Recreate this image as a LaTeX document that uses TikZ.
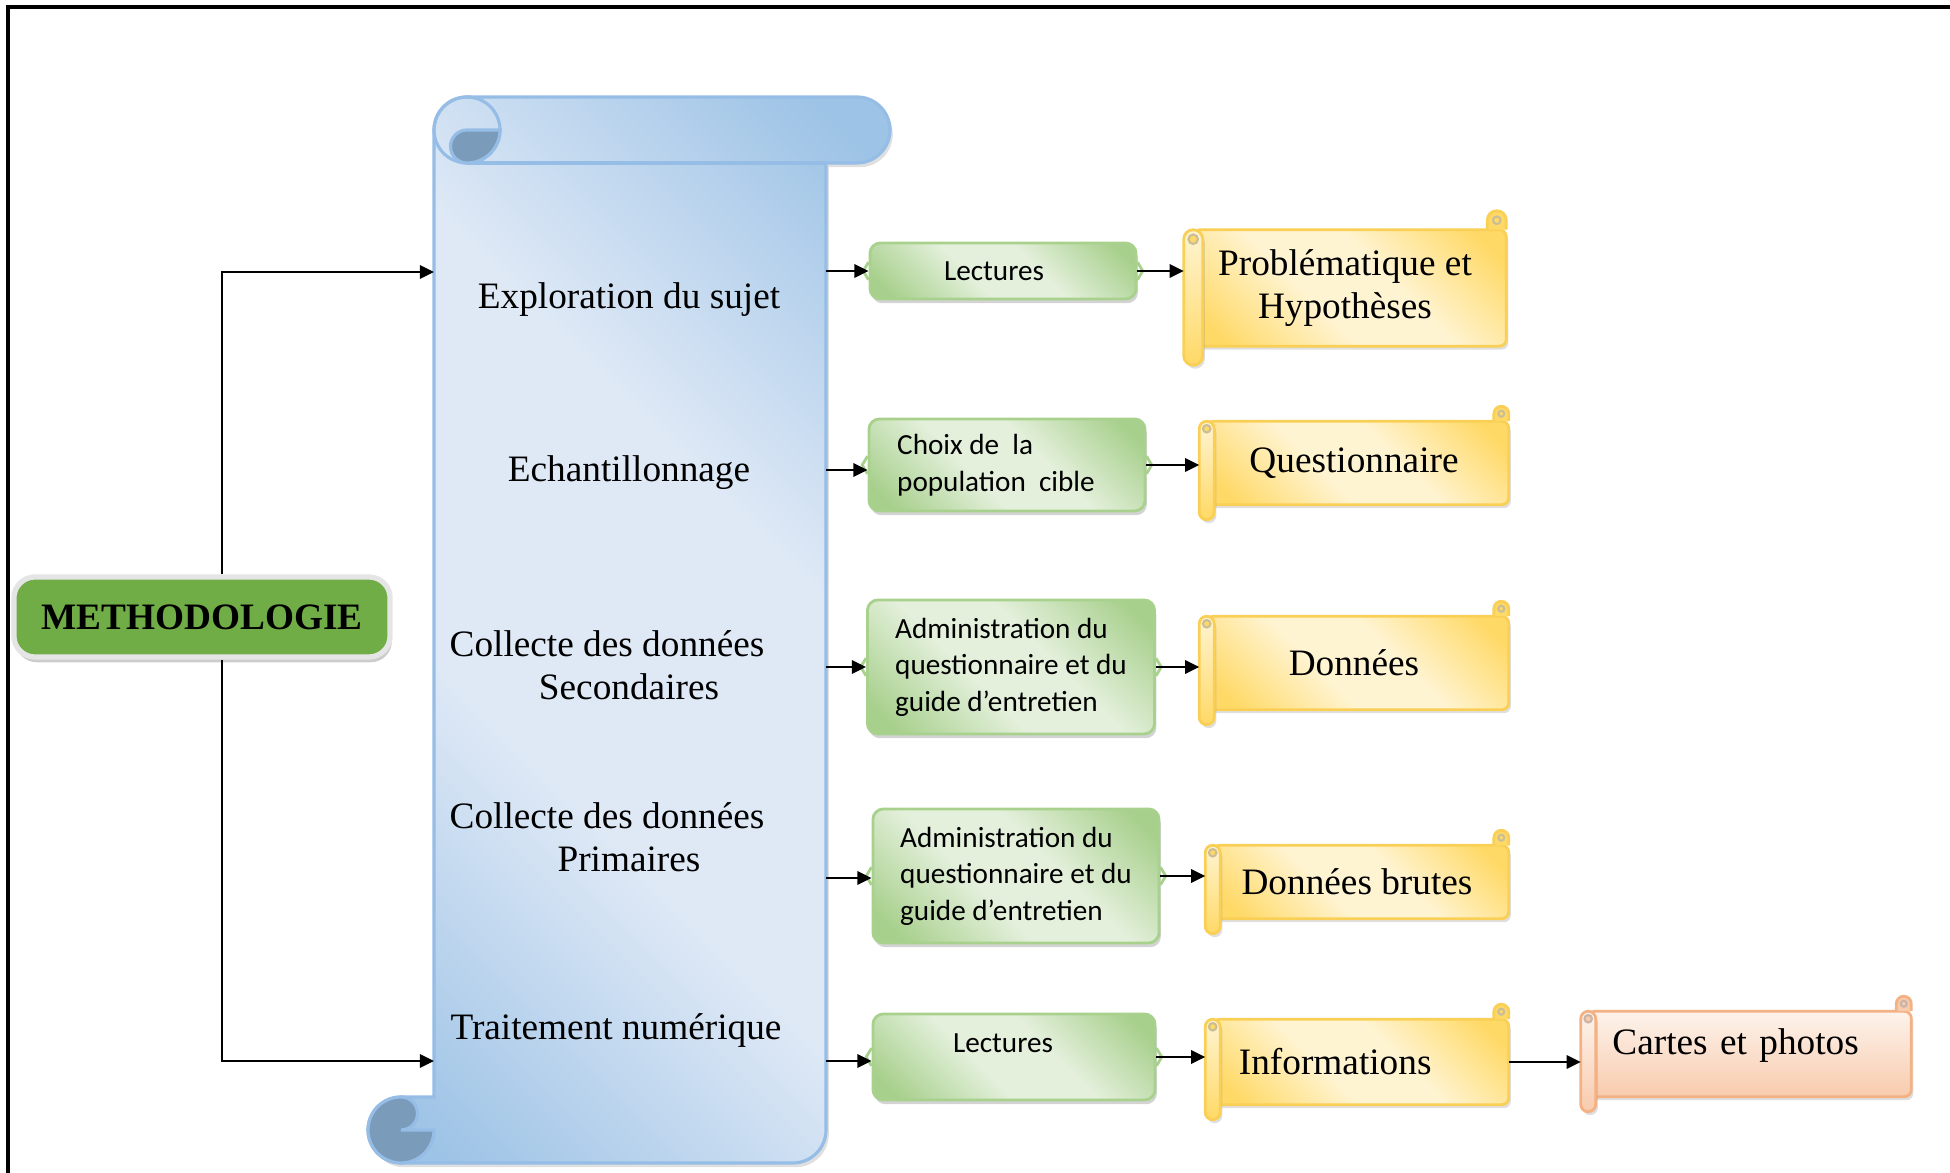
\documentclass[tikz,border=0pt]{standalone}
\usepackage{fontspec}
\setmainfont{Liberation Serif}
\newfontfamily\calibri{Carlito}
\usepackage{tikz}
\usetikzlibrary{positioning, calc, arrows.meta, shadows, backgrounds}

\definecolor{scrollL}{HTML}{DFE9F6}
\definecolor{scrollD}{HTML}{9DC3E6}
\definecolor{scrollB}{HTML}{95BDE6}
\definecolor{curlD}{HTML}{7B9BBA}
\definecolor{methG}{HTML}{70AD47}
\definecolor{greenL}{HTML}{E4F0DC}
\definecolor{greenD}{HTML}{A8D08D}
\definecolor{greenB}{HTML}{A9D18E}
\definecolor{yelL}{HTML}{FFF4D2}
\definecolor{yelD}{HTML}{FFD966}
\definecolor{yelB}{HTML}{F9CF55}
\definecolor{orgL}{HTML}{FDF3EC}
\definecolor{orgD}{HTML}{F8CBAD}
\definecolor{orgB}{HTML}{F4B183}

% dark corners, light middle (used with shading angle=45)
\pgfdeclarehorizontalshading{scrollshade}{100bp}{color(0bp)=(scrollD); color(18bp)=(scrollD); color(40bp)=(scrollL); color(60bp)=(scrollL); color(82bp)=(scrollD); color(100bp)=(scrollD)}
\pgfdeclarehorizontalshading{greenshade}{100bp}{color(0bp)=(greenD); color(20bp)=(greenD); color(42bp)=(greenL); color(58bp)=(greenL); color(80bp)=(greenD); color(100bp)=(greenD)}
\pgfdeclarehorizontalshading{yelshade}{100bp}{color(0bp)=(yelD); color(20bp)=(yelD); color(42bp)=(yelL); color(58bp)=(yelL); color(80bp)=(yelD); color(100bp)=(yelD)}
\pgfdeclareverticalshading{orgshade}{100bp}{color(0bp)=(orgD); color(25bp)=(orgD); color(75bp)=(orgL); color(100bp)=(orgL)}

\newcommand{\serifsize}{\fontsize{10.6}{12.2}\selectfont}
\newcommand{\boxfont}{\calibri\fontsize{8.3}{10.4}\selectfont}

% horizontal scroll round a node: name, curl size, shading, light, dark, border
\newcommand{\hscroll}[6]{%
  \coordinate (nw) at (#1.north west);
  \coordinate (se) at (#1.south east);
  \path[draw=#6, line width=0.8pt, rounded corners=2pt, #3,
        drop shadow={shadow xshift=0.6pt, shadow yshift=-1pt, opacity=.25}]
    ($(nw)+(0.5*#2,-#2)$) rectangle ($(se)+(0,#2)$);
  \path[draw=#6, line width=0.8pt, fill=#5]
    ($(se |- nw)+(-#2,-#2)$) -- ++(0,0.5*#2) arc[start angle=180, end angle=0, radius=0.5*#2] -- ++(0,-0.5*#2);
  \draw[#6!60!black!50, line width=0.6pt] ($(se |- nw)+(-0.5*#2,-0.5*#2)$) circle[radius=0.2*#2];
  \path[draw=#6, line width=0.8pt, top color=#4, bottom color=#5, rounded corners=#2*0.005cm,
        drop shadow={shadow xshift=0.6pt, shadow yshift=-1pt, opacity=.25}]
    ($(nw)+(0,-#2)$) rectangle ($(nw |- se)+(#2,0)$);
  \draw[#6!60!black!50, line width=0.6pt, fill=#5] ($(nw)+(0.5*#2,-1.5*#2)$) circle[radius=0.25*#2];
}

\begin{document}
\begin{tikzpicture}[x=0.01cm, y=0.01cm]
        % Define block styles
        \tikzstyle{lbl} = [font=\serifsize, inner sep=1pt]
        \tikzstyle{metho} = [rectangle, rounded corners=6pt, fill=methG, draw=black!10, line width=1.5pt, font=\serifsize\bfseries,
                             minimum width=3.76cm, minimum height=0.8cm, drop shadow={shadow xshift=0.5pt, shadow yshift=-1.5pt, opacity=.4}]
        \tikzstyle{gbox} = [rectangle, rounded corners=3pt, draw=greenB, line width=0.8pt, shading=greenshade, shading angle=45,
                            font=\boxfont, align=left, drop shadow={shadow xshift=0.5pt, shadow yshift=-1.2pt, opacity=.35}]
        \tikzstyle{ybox} = [rectangle, inner sep=0pt, align=center, font=\serifsize]
        \tikzstyle{arr} = [-{Triangle[length=4pt, width=3.8pt]}, line width=0.6pt]

        \useasboundingbox (0,0) rectangle (1950,1173);
        \draw[line width=0.9pt] (8,0) -- (8,1166) -- (1950,1166);

        % Place nodes
        \node[metho] (metho) at (202,556) {METHODOLOGIE};

        \node[lbl] (explo) at (629,873) {Exploration du sujet};
        \node[lbl] (echan) at (629,700) {Echantillonnage};
        \node[lbl, align=center] (secon) at (607,508) {Collecte des données\\\hspace*{0.44cm}Secondaires};
        \node[lbl, align=center] (prim) at (607,336) {Collecte des données\\\hspace*{0.44cm}Primaires};
        \node[lbl] (trait) at (616,142) {Traitement numérique};

        \node[gbox, minimum width=2.66cm, minimum height=0.56cm] (g1) at (1003,902) {Lectures\hspace*{0.18cm}};
        \node[gbox, minimum width=2.76cm, minimum height=0.92cm] (g2) at (1007,708) {Choix de~ la\\population~ cible\hspace*{0.22cm}};
        \node[gbox, minimum width=2.87cm, minimum height=1.34cm] (g3) at (1011,506) {Administration du\\questionnaire et du\hspace*{0.08cm}\\guide d’entretien};
        \node[gbox, minimum width=2.86cm, minimum height=1.34cm] (g4) at (1016,297) {Administration du\\questionnaire et du\hspace*{0.08cm}\\guide d’entretien};
        \node[gbox, minimum width=2.82cm, minimum height=0.86cm, text depth=0.27cm] (g5) at (1014,116) {Lectures\hspace*{0.22cm}};

        \node[ybox, minimum width=3.21cm, minimum height=1.53cm] (y1) at (1345,885) {Problématique et\\Hypothèses};
        \node[ybox, minimum width=3.08cm, minimum height=1.12cm] (y2) at (1354,710) {Questionnaire};
        \node[ybox, minimum width=3.08cm, minimum height=1.22cm] (y3) at (1354,510) {Données};
        \node[ybox, minimum width=3.02cm, minimum height=1.02cm] (y4) at (1357,291) {Données brutes};
        \node[ybox, text width=2.36cm, inner xsep=0.33cm, align=left, minimum height=1.14cm] (y5) at (1357,111) {Informations};
        \node[ybox, text width=2.67cm, inner xsep=0.31cm, align=left, minimum height=1.14cm, text depth=0.24cm] (o6) at (1746,119) {Cartes et photos};

        % Scroll edges
        \coordinate (bus) at (222,556);
        \coordinate (inA) at (434,901);
        \coordinate (inB) at (434,112);
        \foreach \name/\y in {outA/902, outB/703, outC/506, outD/295, outE/112}
            \coordinate (\name) at (826,\y);

        % Scrolls behind the texts
        \begin{scope}[on background layer]
            \path[draw=scrollB, line width=0.9pt, shading=scrollshade, shading angle=45,
                  drop shadow={shadow xshift=0.8pt, shadow yshift=-1.2pt, opacity=.25}]
                (434,1043) arc (180:90:33) -- (857,1076) arc (90:-90:33) -- (826,1010) -- (826,43) arc (0:-90:33)
                -- (401,10) arc (270:90:33) -- (434,76) -- cycle;
            \draw[scrollB, line width=0.9pt] (467,1010) -- (826,1010);
            \draw[scrollB, line width=0.9pt] (467,1043) circle (33);
            \path[fill=curlD, draw=scrollB, line width=0.9pt] (500,1043) arc (0:-90:33) arc (270:90:16.5) -- cycle;
            \path[fill=curlD, draw=scrollB, line width=0.9pt] (401,76) arc (90:360:33) -- (401,43) arc (270:450:16.5) -- cycle;

            \hscroll{y1}{19}{shading=yelshade, shading angle=45}{yelL}{yelD}{yelB}
            \hscroll{y2}{15}{shading=yelshade, shading angle=45}{yelL}{yelD}{yelB}
            \hscroll{y3}{15}{shading=yelshade, shading angle=45}{yelL}{yelD}{yelB}
            \hscroll{y4}{15}{shading=yelshade, shading angle=45}{yelL}{yelD}{yelB}
            \hscroll{y5}{15}{shading=yelshade, shading angle=45}{yelL}{yelD}{yelB}
            \hscroll{o6}{15}{shading=orgshade}{orgL}{orgD}{orgB}
        \end{scope}

        % Little points on the green boxes
        \foreach \g in {g1,g2,g3,g4,g5} {
            \draw[greenB, line width=0.8pt] ([yshift=2.5pt]\g.west) -- ([xshift=-1.5pt]\g.west) -- ([yshift=-2.5pt]\g.west);
            \draw[greenB, line width=0.8pt] ([yshift=2.5pt]\g.east) -- ([xshift=1.5pt]\g.east) -- ([yshift=-2.5pt]\g.east);
        }

        % Draw connections as arrows
        \draw[arr] (metho.north -| bus) |- (inA);
        \draw[arr] (metho.south -| bus) |- (inB);
        \draw[arr] (outA) -- (outA -| g1.west);
        \draw[arr] (outB) -- (outB -| g2.west);
        \draw[arr] (outC) -- (outC -| g3.west);
        \draw[arr] (outD) -- (outD -| g4.west);
        \draw[arr] (outE) -- (outE -| g5.west);
        \draw[arr] (g1.east) -- (g1.east -| y1.west);
        \draw[arr] (g2.east) -- (g2.east -| y2.west);
        \draw[arr] (g3.east) -- (g3.east -| y3.west);
        \draw[arr] (g4.east) -- (g4.east -| y4.west);
        \draw[arr] (g5.east) -- (g5.east -| y5.west);
        \draw[arr] (y5.east) -- (y5.east -| o6.west);
    \end{tikzpicture}
\end{document}
